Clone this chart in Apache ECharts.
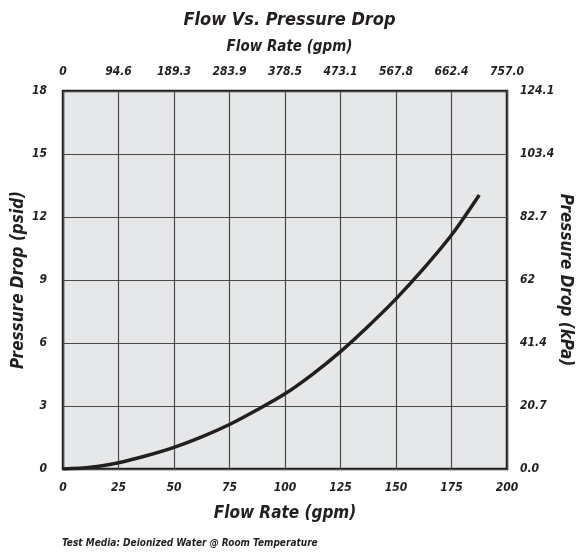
<!DOCTYPE html>
<html>
<head>
<meta charset="utf-8">
<script src="https://cdn.jsdelivr.net/npm/echarts@6/dist/echarts.min.js"></script>
<style>html,body{margin:0;padding:0;background:#fff}#c{width:579px;height:552px}</style>
</head>
<body>
<div id="c"></div>
<script>
// Data
var flowGpm = [0, 12.5, 25, 37.5, 50, 62.5, 75, 87.5, 100, 112.5, 125, 137.5, 150, 162.5, 175, 187.5];
var pressurePsid = [0, 0.08, 0.3, 0.63, 1.03, 1.53, 2.12, 2.82, 3.58, 4.52, 5.59, 6.8, 8.1, 9.55, 11.14, 13.05];
var bottomTicks = ['0', '25', '50', '75', '100', '125', '150', '175', '200'];
var topTicks = ['0', '94.6', '189.3', '283.9', '378.5', '473.1', '567.8', '662.4', '757.0'];
var leftTicks = ['0', '3', '6', '9', '12', '15', '18'];
var rightTicks = ['0.0', '20.7', '41.4', '62', '82.7', '103.4', '124.1'];

var FONT = '"Liberation Sans Narrow", "DejaVu Sans Condensed", "Liberation Sans", sans-serif';
var lab = {fontFamily: FONT, fontStyle: 'italic', fontWeight: 'bold', fontSize: 12, color: '#231f20'};
function L(extra){ var o = {}; for (var k in lab) o[k] = lab[k]; for (var k2 in extra) o[k2] = extra[k2]; return o; }

var points = flowGpm.map(function(x, i){ return [x, pressurePsid[i]]; });

var chart = echarts.init(document.getElementById('c'), null, {renderer: 'canvas'});
chart.setOption({
  animation: false,
  backgroundColor: '#ffffff',
  title: [
    {text: 'Flow Vs. Pressure Drop', left: 'center', top: 6,
     textStyle: L({fontSize: 18})},
    {text: 'Flow Rate (gpm)', left: 'center', top: 35,
     textStyle: L({fontSize: 15})}
  ],
  graphic: [{
    type: 'text', left: 62, top: 538,
    style: {text: 'Test Media: Deionized Water @ Room Temperature',
            font: 'italic bold 10px ' + FONT, fill: '#231f20'}
  }],
  grid: {left: 63, right: 72, top: 91, bottom: 83, show: true,
         containLabel: false, outerBoundsMode: 'none',
         backgroundColor: '#e6e7e9', borderColor: '#231f20', borderWidth: 2.5},
  xAxis: [{
    type: 'value', position: 'bottom', min: 0, max: 200, interval: 25,
    axisLine: {show: false}, axisTick: {show: false},
    splitLine: {show: true, lineStyle: {color: '#4a4a4a', width: 1.2}},
    axisLabel: L({margin: 13, formatter: function(v){ return bottomTicks[Math.round(v / 25)]; }}),
    name: 'Flow Rate (gpm)', nameLocation: 'middle', nameGap: 36, nameMoveOverlap: false,
    nameTextStyle: L({fontSize: 17})
  }, {
    type: 'value', position: 'top', min: 0, max: 200, interval: 25,
    axisLine: {show: false}, axisTick: {show: false}, splitLine: {show: false},
    axisLabel: L({margin: 13, formatter: function(v){ return topTicks[Math.round(v / 25)]; }})
  }],
  yAxis: [{
    type: 'value', position: 'left', min: 0, max: 18, interval: 3,
    axisLine: {show: false}, axisTick: {show: false},
    splitLine: {show: true, lineStyle: {color: '#4a4a4a', width: 1.2}},
    axisLabel: L({margin: 16, formatter: function(v){ return leftTicks[Math.round(v / 3)]; }}),
    name: 'Pressure Drop (psid)', nameLocation: 'middle', nameGap: 36, nameRotate: 90, nameMoveOverlap: false,
    nameTextStyle: L({fontSize: 17})
  }, {
    type: 'value', position: 'right', min: 0, max: 18, interval: 3,
    axisLine: {show: false}, axisTick: {show: false}, splitLine: {show: false},
    axisLabel: L({margin: 13, formatter: function(v){ return rightTicks[Math.round(v / 3)]; }}),
    name: 'Pressure Drop (kPa)', nameLocation: 'middle', nameGap: 50, nameRotate: -90, nameMoveOverlap: false,
    nameTextStyle: L({fontSize: 17})
  }],
  series: [{
    type: 'line', xAxisIndex: 0, yAxisIndex: 0, data: points,
    smooth: 0.3, showSymbol: false,
    lineStyle: {color: '#231f20', width: 3.5}
  }]
});
</script>
</body>
</html>
